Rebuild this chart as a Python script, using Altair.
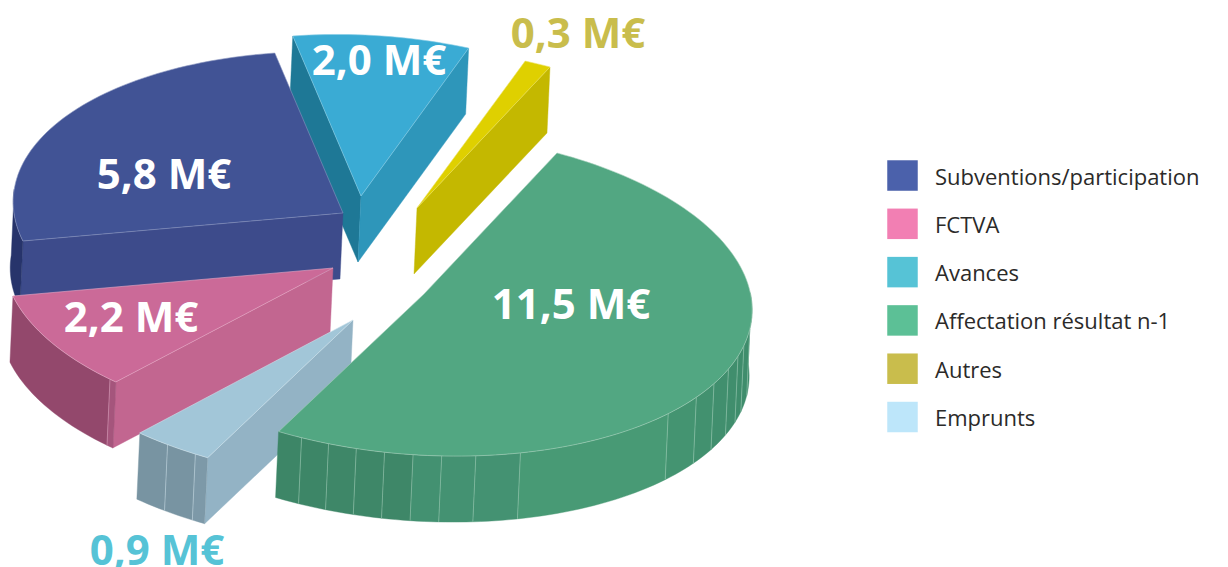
import math
import altair as alt
import pandas as pd

# --- chart values -----------------------------------------------------------
CATEGORIES = ["Subventions/participation", "FCTVA", "Avances",
              "Affectation résultat n-1", "Autres", "Emprunts"]
VALUES = [5.8, 2.2, 2.0, 11.5, 0.3, 0.9]
VALUE_LABELS = ["5,8 M€", "2,2 M€", "2,0 M€", "11,5 M€", "0,3 M€", "0,9 M€"]
LEGEND_COLORS = ["#4b61ab", "#f27fb3", "#56c3d6", "#5cc096", "#c9bd4c", "#bde6fa"]

# --- drawing style / projection of the tilted pie -----------------------------
CLOCKWISE_ORDER = ["Affectation résultat n-1", "Emprunts", "FCTVA",
                   "Subventions/participation", "Avances", "Autres"]
PAINT_ORDER = ["Autres", "Avances", "Subventions/participation", "FCTVA",
               "Emprunts", "Affectation résultat n-1"]
AXES = {"Affectation résultat n-1": ((133, -141), (300, 80)),
        "Emprunts": ((133, -141), (300, 77)),
        "FCTVA": ((137, -142), (300, 77)),
        "Subventions/participation": ((137, -142), (300, 77)),
        "Avances": ((132.5, -142), (294, 77)),
        "Autres": ((133, -141), (294, 77))}
DEPTH = (-3, 66)
APEX = {"Affectation résultat n-1": (424, 294), "Emprunts": (353, 320),
        "FCTVA": (333, 268), "Subventions/participation": (343, 213),
        "Avances": (361, 196), "Autres": (417, 208)}
TOP = {"Affectation résultat n-1": "#52a782", "Emprunts": "#a2c6d8",
       "FCTVA": "#cb6a98", "Subventions/participation": "#415395",
       "Avances": "#3aabd4", "Autres": "#dfd000"}
EDGE = {"Affectation résultat n-1": "#a5d0bb", "Emprunts": "#cfe2ec",
        "FCTVA": "#e6a9c6", "Subventions/participation": "#8a96c0",
        "Avances": "#86cde6", "Autres": "#ebe060"}
START_FACE = {"Emprunts": "#93b3c5", "FCTVA": "#c26690",
              "Subventions/participation": "#3d4b8b", "Avances": "#1e7896"}
END_FACE = {"Avances": "#2e96ba", "Autres": "#c4b800"}
# wall pieces: (end angle, colour); the first entry of a list gives the start
WALLS = {
    "Affectation résultat n-1": [
        (60, None), (73, "#3f8c6b"), (79, "#3f8d6c"), (83, "#3f8d6c"), (88, "#408e6d"),
        (94, "#418f6e"), (100, "#42916f"), (108, "#449471"), (139, "#489a75"),
        (147, "#449272"), (153, "#449272"), (158, "#439171"), (163, "#3e8768"),
        (168, "#3e8768"), (173, "#3e8768"), (178, "#3d8667"), (182.4, "#3d8667")],
    "Emprunts": [(182.4, None), (184.8, "#7d99a8"), (190.5, "#7894a2"), (196.6, "#7894a2")],
    "FCTVA": [(196.6, None), (198, "#a5557c"), (231.5, "#93486c")],
    "Subventions/participation": [(231.5, None), (250, "#27346b")],
}
LABEL_X = [164, 131, 379, 571, 578, 157]
LABEL_Y = [176, 319, 62, 306, 35, 552]
LABEL_COLOR = ["white", "white", "white", "white", "#c9bd4c", "#56c3d6"]

# --- slices from values -------------------------------------------------------
total = sum(VALUES)
val = dict(zip(CATEGORIES, VALUES))
bounds, a = {}, 0.0
for c in CLOCKWISE_ORDER:
    bounds[c] = (a, a + val[c] / total * 360)
    a = bounds[c][1]


def rim(c, deg, low=False):
    t = math.radians(deg)
    ax, ay = APEX[c]
    u, v = AXES[c]
    x = ax + u[0] * math.cos(t) + v[0] * math.sin(t)
    y = ay + u[1] * math.cos(t) + v[1] * math.sin(t)
    return (x + DEPTH[0], y + DEPTH[1]) if low else (x, y)


def sweep(a0, a1):
    n = max(2, int(abs(a1 - a0) / 1.5) + 1)
    return [a0 + (a1 - a0) * i / n for i in range(n + 1)]


rows = []


def shape(points, fill, stroke, width):
    pid = len(rows) and rows[-1]["pid"] + 1
    for i, (x, y) in enumerate(points):
        rows.append({"pid": pid, "pt": i, "x": x, "y": y, "fill": fill,
                     "stroke": stroke, "sw": width})


for c in PAINT_ORDER:
    a0, a1 = bounds[c]
    ax, ay = APEX[c]
    low_apex = (ax + DEPTH[0], ay + DEPTH[1])
    for faces, deg in ((START_FACE, a0), (END_FACE, a1)):
        if c in faces:
            shape([(ax, ay), rim(c, deg), rim(c, deg, True), low_apex, (ax, ay)],
                  faces[c], faces[c], 0.4)
    wall = WALLS.get(c, [])
    for (d0, _), (d1, col) in zip(wall, wall[1:]):
        arc = sweep(d0, d1)
        pts = [rim(c, d) for d in arc] + [rim(c, d, True) for d in reversed(arc)]
        shape(pts + pts[:1], col, col, 0.4)
    for d, _ in wall[1:-1]:
        shape([rim(c, d), rim(c, d, True)], "transparent", EDGE[c], 0.5)
    arc = sweep(a0, a1)
    top = [(ax, ay)] + [rim(c, d) for d in arc] + [(ax, ay)]
    shape(top, TOP[c], EDGE[c], 0.6)

polys = pd.DataFrame(rows)

X = alt.X("x:Q", scale=alt.Scale(domain=[8, 1220], nice=False, zero=False), axis=None)
Y = alt.Y("y:Q", scale=alt.Scale(domain=[559, 8], nice=False, zero=False), axis=None)

# legend carrier: tiny squares hidden behind the large slice
legend_df = pd.DataFrame({"cat": CATEGORIES, "x": [423] * 6, "y": [400] * 6})
legend_layer = alt.Chart(legend_df).mark_square(size=1, filled=True, opacity=1).encode(
    x=X, y=Y,
    color=alt.Color("cat:N",
                    scale=alt.Scale(domain=CATEGORIES, range=LEGEND_COLORS),
                    sort=CATEGORIES,
                    legend=alt.Legend(
                        title=None, orient="none", legendX=879, legendY=154,
                        symbolType="M-1,-1.13H1V0.87H-1Z", symbolSize=930, symbolStrokeWidth=0,
                        symbolOpacity=1,
                        labelFont="Open Sans", labelFontSize=22, labelColor="#2b2a29",
                        labelLimit=400, labelOffset=17, rowPadding=17.3, padding=0)),
)

pie_layer = alt.Chart(polys).mark_line(interpolate="linear", strokeJoin="round").encode(
    x=X, y=Y,
    detail="pid:N",
    order="pt:Q",
    fill=alt.Fill("fill:N", scale=None),
    stroke=alt.Stroke("stroke:N", scale=None),
    strokeWidth=alt.StrokeWidth("sw:Q", scale=None),
)

label_df = pd.DataFrame({"label": VALUE_LABELS, "x": LABEL_X, "y": LABEL_Y, "c": LABEL_COLOR})
label_layer = alt.Chart(label_df).mark_text(
    font="Open Sans", fontWeight="bold", fontSize=42, align="center", baseline="middle"
).encode(x=X, y=Y, text="label:N", fill=alt.Fill("c:N", scale=None))

chart = alt.layer(legend_layer, pie_layer, label_layer).properties(
    width=1212, height=551, padding=0, background="white"
).configure_view(stroke=None)

chart.save("out.html", embed_options={"renderer": "svg", "actions": False})
